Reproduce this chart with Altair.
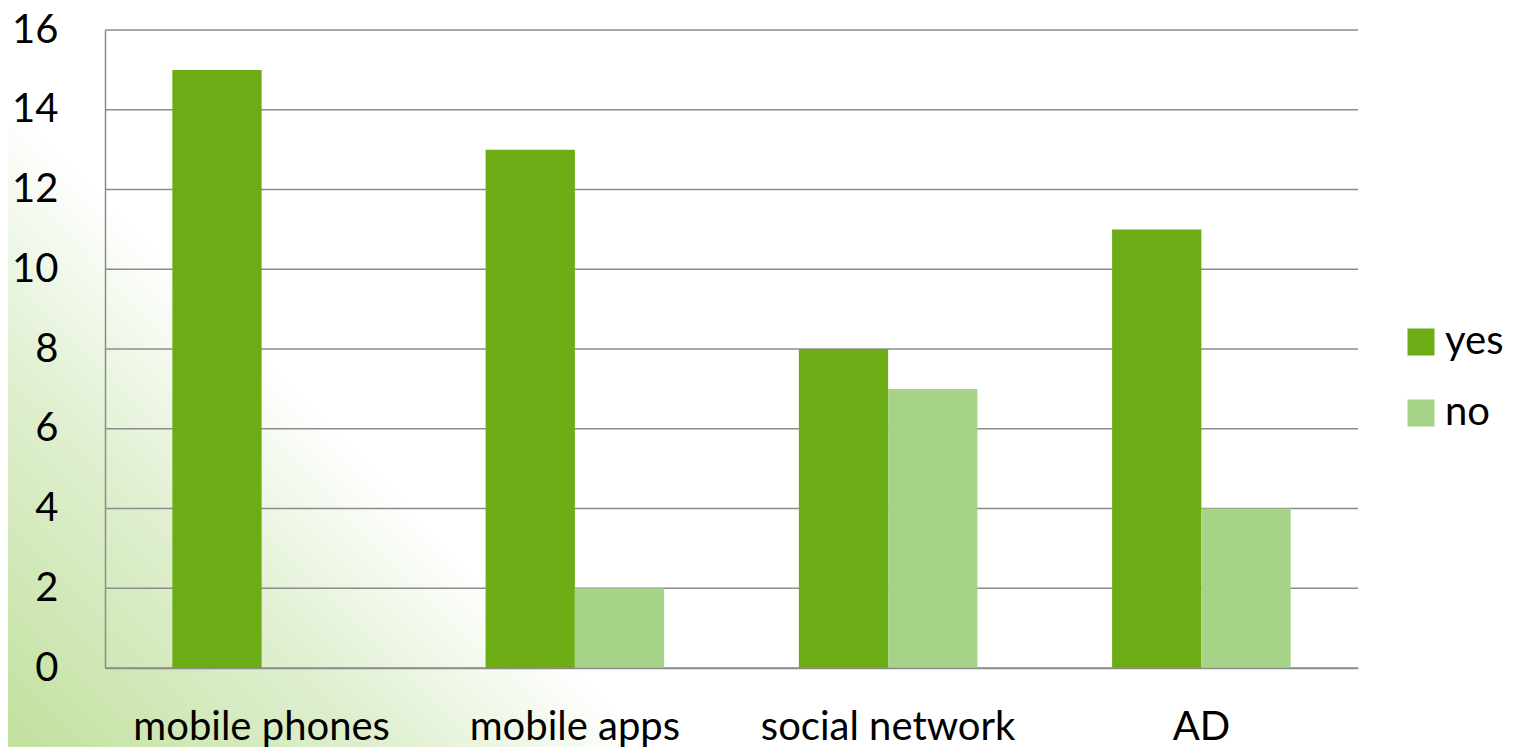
import altair as alt
import pandas as pd

categories = ["mobile phones", "mobile apps", "social network", "AD"]
answers = ["yes", "no"]
yes_values = [15, 13, 8, 11]
no_values = [0, 2, 7, 4]
y_ticks = [0, 2, 4, 6, 8, 10, 12, 14, 16]

rows = []
for c, yv, nv in zip(categories, yes_values, no_values):
    rows.append({"category": c, "answer": "yes", "value": yv})
    rows.append({"category": c, "answer": "no", "value": nv})
df = pd.DataFrame(rows)
grid_df = pd.DataFrame({"value": y_ticks})

FONT = "Lato"
GRID = "#8c8c8c"

gradient = {
    "gradient": "linear",
    "x1": 0, "y1": 1, "x2": 1, "y2": 0,
    "stops": [
        {"offset": 0.0, "color": "#c2e09e"},
        {"offset": 0.18, "color": "#d3e9bc"},
        {"offset": 0.32, "color": "#e1f0d2"},
        {"offset": 0.42, "color": "#f0f8e9"},
        {"offset": 0.52, "color": "#ffffff"},
        {"offset": 1.0, "color": "#ffffff"},
    ],
}

bg = alt.Chart(pd.DataFrame({"a": [0]})).mark_rect(fill=gradient).encode(
    x=alt.value(-97), x2=alt.value(523), y=alt.value(97), y2=alt.value(717)
)

yscale = alt.Scale(domain=[0, 16], nice=False, zero=True)
yaxis = alt.Axis(
    title=None, values=y_ticks, ticks=False, tickSize=0, grid=False,
    labelFontSize=40, labelFont=FONT, labelColor="#000000",
    labelPadding=47, domainColor=GRID, domainWidth=1.5, zindex=2,
)

grid = alt.Chart(grid_df).mark_rule(color=GRID, strokeWidth=1.5).encode(
    y=alt.Y("value:Q", scale=yscale, axis=yaxis)
)

bars = alt.Chart(df).mark_bar().encode(
    x=alt.X(
        "category:N",
        sort=categories,
        scale=alt.Scale(paddingInner=0.43, paddingOuter=0.215),
        axis=alt.Axis(
            title=None, labelAngle=0, ticks=False, tickSize=0, grid=False,
            labelFontSize=40, labelFont=FONT, labelColor="#000000",
            labelBaseline="alphabetic", labelPadding=71, labelLimit=0,
            domainColor=GRID, domainWidth=1.5, zindex=2,
        ),
    ),
    xOffset=alt.XOffset("answer:N", sort=answers),
    y=alt.Y("value:Q", scale=yscale, axis=yaxis),
    color=alt.Color(
        "answer:N",
        sort=answers,
        scale=alt.Scale(domain=answers, range=["#6cad16", "#a6d388"]),
        legend=alt.Legend(
            title=None, orient="none", legendX=1296, legendY=292,
            symbolType="square", symbolSize=729, symbolStrokeWidth=0,
            labelFontSize=40, labelFont=FONT, labelColor="#000000",
            labelOffset=4, rowPadding=31, padding=0, labelLimit=0,
        ),
    ),
)

chart = alt.layer(bg, grid, bars).properties(
    width=1253,
    height=638,
    autosize=alt.AutoSizeParams(type="none"),
    padding={"left": 97, "top": 22, "right": 150, "bottom": 79},
    background="#ffffff",
).configure_view(stroke=None)

chart.save("out.html", embed_options={"renderer": "svg", "actions": False})
